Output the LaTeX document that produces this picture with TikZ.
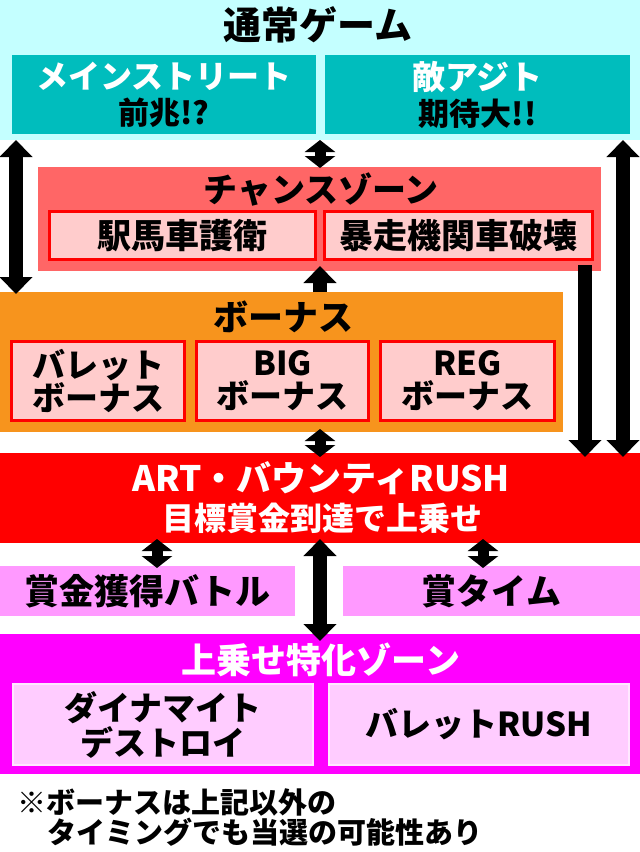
\documentclass[tikz,border=0pt]{standalone}
\usepackage{fontspec}
\setmainfont{Noto Sans CJK JP}[UprightFont=* Black, BoldFont=* Black]
\usetikzlibrary{arrows.meta}
\definecolor{cyanbg}{HTML}{C4FFFF}
\definecolor{tealbox}{HTML}{00BDBD}
\definecolor{salmon}{HTML}{FF6666}
\definecolor{pinkin}{HTML}{FFCCCC}
\definecolor{orangebg}{HTML}{F7941D}
\definecolor{redbg}{HTML}{FF0000}
\definecolor{pinkbox}{HTML}{FF99FF}
\definecolor{magbg}{HTML}{FF00FF}
\definecolor{magin}{HTML}{FFCCFF}
\definecolor{magedge}{HTML}{FFE8FF}
\begin{document}
\begin{tikzpicture}[x=1pt,y=-1pt,
  box/.style={inner sep=0pt, outer sep=0pt, align=center, anchor=center},
  redbox/.style={box, fill=pinkin, draw=redbg, line width=3pt},
  magbox/.style={box, fill=magin, draw=magedge, line width=2pt},
  ttl/.style={inner sep=0pt, anchor=center, align=center},
  bigarrow/.style={line width=14pt, >={Triangle[width=32pt,length=17pt]}},
  smallarrow/.style={line width=11pt, >={Triangle[width=30pt,length=12pt]}}
]
\useasboundingbox (0,0) rectangle (640,852);
\fill[white] (0,0) rectangle (640,852);

% normal game
\node[box, fill=cyanbg, minimum width=640pt, minimum height=140pt] (normal) at (320,70) {};
\node[ttl, font=\fontsize{38pt}{40pt}\selectfont] (normalt) at (318,25) {通常ゲーム};
\node[box, fill=tealbox, minimum width=304pt, minimum height=79pt,
  font=\fontsize{32pt}{36pt}\selectfont] (street) at (164,94.5)
  {\textcolor{white}{メインストリート}\\\fontsize{31pt}{36pt}\selectfont\textcolor{black}{前兆!?}};
\node[box, fill=tealbox, minimum width=305pt, minimum height=79pt,
  font=\fontsize{33pt}{36pt}\selectfont] (ajito) at (477.5,94.5)
  {\textcolor{white}{敵アジト}\\\fontsize{31pt}{36pt}\selectfont\textcolor{black}{期待大!!}};

% chance zone
\node[box, fill=salmon, minimum width=563pt, minimum height=104pt] (chance) at (319.5,219) {};
\node[ttl, font=\fontsize{34pt}{36pt}\selectfont] (chancet) at (321,190) {チャンスゾーン};
\node[redbox, minimum width=266pt, minimum height=48pt, font=\fontsize{34pt}{36pt}\selectfont]
  (escort) at (182.5,235.5) {駅馬車護衛};
\node[redbox, minimum width=268pt, minimum height=48pt, font=\fontsize{34pt}{36pt}\selectfont]
  (train) at (458.5,235.5) {暴走機関車破壊};

% bonus
\node[box, fill=orangebg, minimum width=563pt, minimum height=140pt] (bonus) at (281.5,362) {};
\node[ttl, font=\fontsize{35pt}{36pt}\selectfont] (bonust) at (283,317) {ボーナス};
\node[redbox, minimum width=173pt, minimum height=79pt, font=\fontsize{33pt}{33pt}\selectfont]
  (bullet) at (98,381) {バレット\\ボーナス};
\node[redbox, minimum width=172pt, minimum height=79pt, font=\fontsize{33pt}{33pt}\selectfont]
  (big) at (282.5,381) {BIG\\ボーナス};
\node[redbox, minimum width=174pt, minimum height=79pt, font=\fontsize{33pt}{33pt}\selectfont]
  (reg) at (467.5,381) {REG\\ボーナス};

% ART
\node[box, fill=redbg, minimum width=640pt, minimum height=90pt] (art) at (320,498) {};
\node[ttl, text=white, font=\fontsize{35pt}{36pt}\selectfont] (artt) at (321,478) {ART・バウンティRUSH};
\node[ttl, text=white, font=\fontsize{32pt}{36pt}\selectfont] (arts) at (322,518) {目標賞金到達で上乗せ};

% pink boxes
\node[box, fill=pinkbox, minimum width=295pt, minimum height=50pt, font=\fontsize{35pt}{36pt}\selectfont]
  (battle) at (147.5,591) {賞金獲得バトル};
\node[box, fill=pinkbox, minimum width=297pt, minimum height=50pt, font=\fontsize{35pt}{36pt}\selectfont]
  (time) at (491.5,591) {賞タイム};

% magenta zone
\node[box, fill=magbg, minimum width=640pt, minimum height=140pt] (mag) at (320,704) {};
\node[ttl, text=white, font=\fontsize{35pt}{36pt}\selectfont] (magt) at (321,660) {上乗せ特化ゾーン};
\node[magbox, minimum width=300pt, minimum height=81pt, font=\fontsize{33pt}{35pt}\selectfont]
  (dyna) at (163,724.5) {ダイナマイト\\デストロイ};
\node[magbox, minimum width=300pt, minimum height=81pt, font=\fontsize{33pt}{35pt}\selectfont]
  (brush) at (479,724.5) {バレットRUSH};

% footnote
\node[inner sep=0pt, anchor=west, font=\fontsize{29pt}{30pt}\selectfont] (note1) at (17,802) {※ボーナスは上記以外の};
\node[inner sep=0pt, anchor=west, font=\fontsize{29pt}{30pt}\selectfont] (note2) at (47,832) {タイミングでも当選の可能性あり};

% arrow x positions
\coordinate (xL) at (16,0);
\coordinate (xC) at (320,0);
\coordinate (xR) at (623,0);
\coordinate (xR2) at (585,0);
\coordinate (xP1) at (157,0);
\coordinate (xP2) at (483,0);

% arrows
\draw[bigarrow,<->] (normal.south -| xL) -- ([yshift=-2pt]bonus.north -| xL);
\draw[smallarrow,<->] (normal.south -| xC) -- ([yshift=-1pt]chance.north -| xC);
\draw[bigarrow,<->] (normal.south -| xR) -- ([yshift=-4pt]art.north -| xR);
\draw[bigarrow,->] ([yshift=6pt]chance.south -| xR2) -- ([yshift=-4pt]art.north -| xR2);
\draw[bigarrow,->] (bonus.north -| xC) -- ([yshift=5pt]chance.south -| xC);
\draw[smallarrow,<->] ([yshift=3pt]bonus.south -| xC) -- ([yshift=-4pt]art.north -| xC);
\draw[smallarrow,<->] ([yshift=4pt]art.south -| xP1) -- ([yshift=-2pt]battle.north -| xP1);
\draw[smallarrow,<->] ([yshift=4pt]art.south -| xP2) -- ([yshift=-2pt]time.north -| xP2);
\draw[bigarrow,<->] ([yshift=4pt]art.south -| xC) -- ([yshift=-7pt]mag.north -| xC);
\end{tikzpicture}
\end{document}
